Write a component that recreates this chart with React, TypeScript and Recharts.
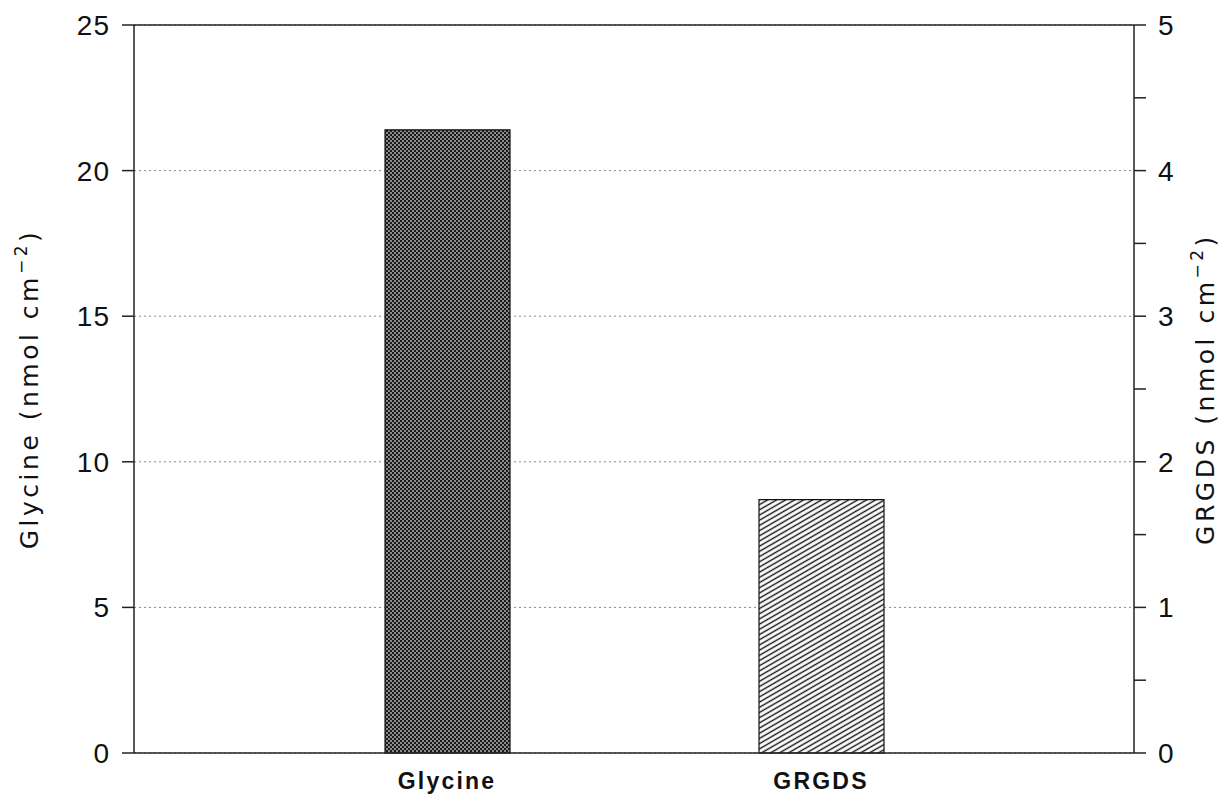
import { BarChart, Bar, XAxis, YAxis, CartesianGrid, ReferenceLine } from 'recharts'

const categories = ['Glycine', 'GRGDS']
// glycine is read on the left axis, GRGDS on the right one
const glycineValues = [21.4, null]
const grgdsValues = [null, 1.74]
const leftTicks = [0, 5, 10, 15, 20, 25]
const rightTicks = [0, 0.5, 1, 1.5, 2, 2.5, 3, 3.5, 4, 4.5, 5]

const data = categories.map((name, i) => ({
  name,
  glycine: glycineValues[i],
  grgds: grgdsValues[i],
}))

const FONT = '"Liberation Sans", Arial, sans-serif'
const TITLE_FONT = '"DejaVu Sans", sans-serif'
const AXIS = '#222'

function AxisTitle({ viewBox, text, shift }: any) {
  const cx = viewBox.x + shift
  const cy = viewBox.y + viewBox.height / 2
  return (
    <text
      x={cx} y={cy} transform={`rotate(-90 ${cx} ${cy})`}
      textAnchor="middle" fontFamily={TITLE_FONT} fontSize={25} letterSpacing={3.5} fill="#111"
    >
      {text} (nmol cm
      <tspan dy={-11} fontSize={17}>−2</tspan>
      <tspan dy={11}>)</tspan>
    </text>
  )
}

function RightTick({ x, y, payload }: any) {
  if (payload.value % 1 !== 0) return null
  return (
    <text x={x} y={y} dy={10} textAnchor="start" fontFamily={FONT} fontSize={28} letterSpacing={1} fill="#111">
      {payload.value}
    </text>
  )
}

export default function App() {
  return (
    <div style={{ position: 'absolute', left: 0, top: 0, background: '#fff' }}>
      <BarChart
        width={1230} height={807} data={data}
        margin={{ top: 25, right: 0, bottom: 0, left: 0 }}
        barSize={125} barGap={-125}
      >
        <defs>
          <pattern id="checker" width={4} height={4} patternUnits="userSpaceOnUse">
            <rect width={4} height={4} fill="#8c8c8c" />
            <rect width={2} height={2} fill="#1a1a1a" />
            <rect x={2} y={2} width={2} height={2} fill="#1a1a1a" />
          </pattern>
          <pattern id="hatch" width={10} height={4.5} patternUnits="userSpaceOnUse" patternTransform="rotate(-30)">
            <rect width={10} height={4.5} fill="#fff" />
            <line x1={0} y1={2.25} x2={10} y2={2.25} stroke="#111" strokeWidth={1.4} />
          </pattern>
        </defs>
        <CartesianGrid
          yAxisId="left" vertical={false} stroke="#888" strokeDasharray="2 3"
        />
        <XAxis
          dataKey="name" height={54} tickLine={false}
          padding={{ left: 126, right: 126 }}
          axisLine={{ stroke: AXIS, strokeWidth: 1.5 }}
          tick={{ fontFamily: FONT, fontSize: 23, fontWeight: 700, fill: '#111', letterSpacing: 2.2 }}
          tickMargin={14}
        />
        <YAxis
          yAxisId="left" width={134} domain={[0, 25]} ticks={leftTicks}
          tickSize={12} tickMargin={12}
          axisLine={{ stroke: AXIS, strokeWidth: 1.5 }} tickLine={{ stroke: AXIS, strokeWidth: 1.5 }}
          tick={{ fontFamily: FONT, fontSize: 28, fill: '#111', letterSpacing: 1 }}
          label={<AxisTitle text="Glycine" shift={38} />}
        />
        <YAxis
          yAxisId="right" orientation="right" width={96} domain={[0, 5]} ticks={rightTicks}
          tickSize={12} tickMargin={12} interval={0}
          axisLine={{ stroke: AXIS, strokeWidth: 1.5 }} tickLine={{ stroke: AXIS, strokeWidth: 1.5 }}
          tick={<RightTick />}
          label={<AxisTitle text="GRGDS" shift={80} />}
        />
        <ReferenceLine yAxisId="left" y={25} stroke={AXIS} strokeWidth={1.5} />
        <Bar
          yAxisId="left" dataKey="glycine" fill="url(#checker)"
          stroke="#111" strokeWidth={1.2} isAnimationActive={false}
        />
        <Bar
          yAxisId="right" dataKey="grgds" fill="url(#hatch)"
          stroke="#111" strokeWidth={1.2} isAnimationActive={false}
        />
      </BarChart>
    </div>
  )
}
